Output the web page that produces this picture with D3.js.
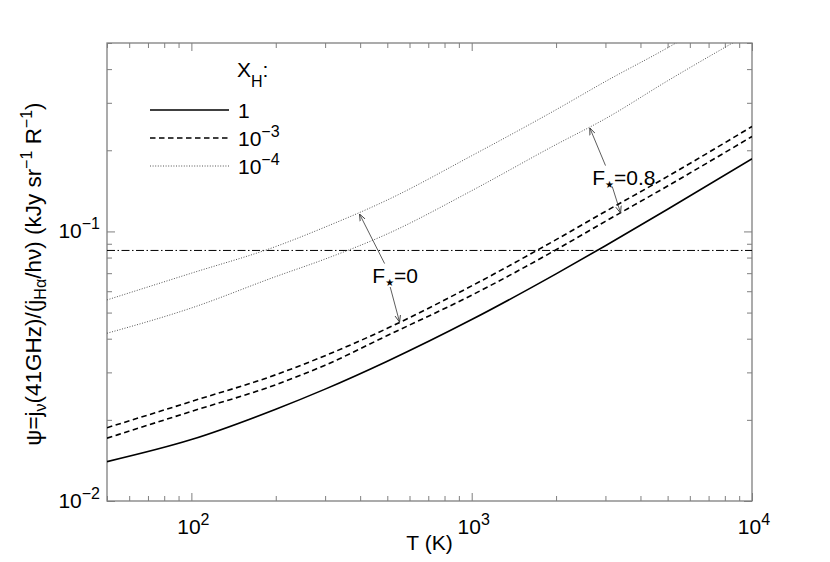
<!DOCTYPE html>
<html>
<head>
<meta charset="utf-8">
<script src="https://cdn.jsdelivr.net/npm/d3@7"></script>
<style>
  body { margin: 0; background: #fff; }
  text { font-family: "Liberation Sans", Arial, Helvetica, sans-serif; fill: #000; }
</style>
</head>
<body>
<div id="main"></div>
<script>
// temperatures (K) and psi values
var temps = [50, 100, 200, 300, 500, 1000, 2000, 3000, 5000, 10000];
var psiXH1 = [0.0140, 0.0169, 0.0219, 0.0260, 0.0330, 0.0471, 0.0696, 0.0885, 0.1208, 0.186];
var psiXH3F0 = [0.0187, 0.0234, 0.0294, 0.0346, 0.0437, 0.0628, 0.0932, 0.1186, 0.160, 0.245];
var psiXH3F08 = [0.0171, 0.0215, 0.0270, 0.0319, 0.0411, 0.0580, 0.0855, 0.109, 0.1474, 0.225];
var psiXH4F0 = [0.0557, 0.070, 0.0879, 0.1038, 0.1308, 0.1909, 0.2828, 0.36, 0.480, 0.74];
var psiXH4F08 = [0.0419, 0.052, 0.068, 0.079, 0.0979, 0.1416, 0.21, 0.262, 0.362, 0.55];
var psiLimit = 0.085;

var legendBase = ["1", "10", "10"];
var legendSup = ["", "\u22123", "\u22124"];
var xTickExp = [2, 3, 4];
var yTickExp = [-2, -1];

// annotations: [T, psi] for label position, arrow tails and heads
var annotLabels = ["0", "0.8"];
var annotPos = [[442, 0.0642], [2691, 0.1493]];
var arrowTail = [[[489, 0.0760], [512, 0.0622]], [[3002, 0.1755], [3172, 0.1468]]];
var arrowHead = [[[398, 0.1160], [553, 0.0461]], [[2639, 0.2420], [3398, 0.1170]]];

var margin = { top: 43, right: 78, bottom: 61, left: 107 },
  width = 830, height = 562;

var x = d3.scaleLog().domain([50, 1e4]).range([margin.left, width - margin.right]);
var y = d3.scaleLog().domain([0.01, 0.5]).range([height - margin.bottom, margin.top]);

var svg = d3.select("#main").append("svg")
  .attr("width", width)
  .attr("height", height);

svg.append("rect").attr("width", width).attr("height", height).attr("fill", "#fff");

var defs = svg.append("defs");
defs.append("clipPath").attr("id", "plotclip")
  .append("rect")
  .attr("x", margin.left).attr("y", margin.top)
  .attr("width", width - margin.left - margin.right)
  .attr("height", height - margin.top - margin.bottom);

defs.append("marker")
  .attr("id", "head")
  .attr("viewBox", "0 0 10 10")
  .attr("refX", 10).attr("refY", 5)
  .attr("markerWidth", 7).attr("markerHeight", 7)
  .attr("markerUnits", "userSpaceOnUse")
  .attr("orient", "auto")
  .append("path")
  .attr("d", "M0,1 L10,5 L0,9")
  .attr("fill", "none")
  .attr("stroke", "#333")
  .attr("stroke-width", 1.2);

function isDecade(v) { var l = Math.log10(v); return Math.abs(l - Math.round(l)) < 1e-9; }
var xMajor = x.ticks().filter(isDecade), xMinor = x.ticks().filter(function (d) { return !isDecade(d); });
var yMajor = y.ticks().filter(isDecade), yMinor = y.ticks().filter(function (d) { return !isDecade(d); });

var axisColor = "#7f7f7f";
function styleAxis(g) {
  g.select(".domain").remove();
  g.selectAll(".tick line").attr("stroke", axisColor).attr("stroke-width", 1);
  g.selectAll(".tick text").remove();
}
var bottomY = height - margin.bottom, rightX = width - margin.right;
[[xMajor, 8], [xMinor, 5]].forEach(function (t) {
  svg.append("g").attr("transform", "translate(0," + bottomY + ")")
    .call(d3.axisBottom(x).tickValues(t[0]).tickSize(-t[1]).tickSizeOuter(0)).call(styleAxis);
  svg.append("g").attr("transform", "translate(0," + margin.top + ")")
    .call(d3.axisTop(x).tickValues(t[0]).tickSize(-t[1]).tickSizeOuter(0)).call(styleAxis);
});
[[yMajor, 8], [yMinor, 5]].forEach(function (t) {
  svg.append("g").attr("transform", "translate(" + margin.left + ",0)")
    .call(d3.axisLeft(y).tickValues(t[0]).tickSize(-t[1]).tickSizeOuter(0)).call(styleAxis);
  svg.append("g").attr("transform", "translate(" + rightX + ",0)")
    .call(d3.axisRight(y).tickValues(t[0]).tickSize(-t[1]).tickSizeOuter(0)).call(styleAxis);
});

svg.append("rect")
  .attr("x", margin.left).attr("y", margin.top)
  .attr("width", rightX - margin.left).attr("height", bottomY - margin.top)
  .attr("fill", "none").attr("stroke", axisColor).attr("stroke-width", 1.3);

// tick labels
xTickExp.forEach(function (e) {
  var t = svg.append("text")
    .attr("x", x(Math.pow(10, e)) + 2).attr("y", bottomY + 33)
    .attr("text-anchor", "middle").style("font-size", "21px");
  t.append("tspan").text("10");
  t.append("tspan").attr("dy", -9).style("font-size", "16px").text(e);
});
yTickExp.forEach(function (e) {
  var t = svg.append("text")
    .attr("x", margin.left - 7).attr("y", y(Math.pow(10, e)) + 7)
    .attr("text-anchor", "end").style("font-size", "21px");
  t.append("tspan").text("10");
  t.append("tspan").attr("dy", -9).style("font-size", "16px").text("\u2212" + Math.abs(e));
});

// axis titles
svg.append("text")
  .attr("x", (margin.left + rightX) / 2).attr("y", 550)
  .attr("text-anchor", "middle").style("font-size", "21px")
  .text("T (K)");

var yl = svg.append("text")
  .attr("transform", "translate(41,274) rotate(-90)")
  .attr("text-anchor", "middle").style("font-size", "22.5px");
yl.append("tspan").text("\u03c8=j");
yl.append("tspan").attr("dy", 5).style("font-size", "16px").text("\u03bd");
yl.append("tspan").attr("dy", -5).text("(41GHz)/(j");
yl.append("tspan").attr("dy", 5).style("font-size", "16px").text("H\u03b1");
yl.append("tspan").attr("dy", -5).text("/h\u03bd) (kJy sr");
yl.append("tspan").attr("dy", -9).style("font-size", "16px").text("\u22121");
yl.append("tspan").attr("dy", 9).text(" R");
yl.append("tspan").attr("dy", -9).style("font-size", "16px").text("\u22121");
yl.append("tspan").attr("dy", 9).text(")");

// curves
var series = [
  { values: psiXH1, stroke: "#000", width: 1.6, dash: null },
  { values: psiXH3F0, stroke: "#000", width: 1.6, dash: "5.5,3.5" },
  { values: psiXH3F08, stroke: "#000", width: 1.6, dash: "5.5,3.5" },
  { values: psiXH4F0, stroke: "#555", width: 1, dash: "1,1.6" },
  { values: psiXH4F08, stroke: "#555", width: 1, dash: "1,1.6" }
];

var line = d3.line()
  .x(function (d) { return x(d[0]); })
  .y(function (d) { return y(d[1]); })
  .curve(d3.curveMonotoneX);

var plot = svg.append("g").attr("clip-path", "url(#plotclip)");

plot.append("line")
  .attr("x1", x(50)).attr("x2", x(1e4))
  .attr("y1", y(psiLimit)).attr("y2", y(psiLimit))
  .attr("stroke", "#000").attr("stroke-width", 1)
  .attr("stroke-dasharray", "8,2.5,1.5,2.5");

plot.selectAll(".curve")
  .data(series)
  .enter().append("path")
  .attr("class", "curve")
  .attr("d", function (s) { return line(temps.map(function (t, i) { return [t, s.values[i]]; })); })
  .attr("fill", "none")
  .attr("stroke", function (s) { return s.stroke; })
  .attr("stroke-width", function (s) { return s.width; })
  .attr("stroke-dasharray", function (s) { return s.dash; });

// annotations
annotLabels.forEach(function (lab, k) {
  var t = svg.append("text")
    .attr("x", x(annotPos[k][0])).attr("y", y(annotPos[k][1]))
    .style("font-size", "21px");
  t.append("tspan").text("F");
  t.append("tspan").attr("dy", 3).style("font-size", "10px")
    .style("font-family", "DejaVu Sans").text("\u2605");
  t.append("tspan").attr("dy", -3).text("=" + lab);
  arrowTail[k].forEach(function (tail, j) {
    var head = arrowHead[k][j];
    svg.append("line")
      .attr("x1", x(tail[0])).attr("y1", y(tail[1]))
      .attr("x2", x(head[0])).attr("y2", y(head[1]))
      .attr("stroke", "#333").attr("stroke-width", 0.8)
      .attr("marker-end", "url(#head)");
  });
});

// legend
var lg = svg.append("g");
var xh = lg.append("text").attr("x", 237).attr("y", 77).style("font-size", "21px");
xh.append("tspan").text("X");
xh.append("tspan").attr("dy", 10).style("font-size", "16px").text("H");
xh.append("tspan").attr("dy", -10).text(":");

series.filter(function (s, i) { return i != 2 && i != 4; }).forEach(function (s, i) {
  var ly = 110 + i * 28;
  lg.append("line")
    .attr("x1", 150).attr("x2", 229).attr("y1", ly).attr("y2", ly)
    .attr("stroke", s.stroke).attr("stroke-width", s.width)
    .attr("stroke-dasharray", s.dash);
  var t = lg.append("text").attr("x", 238).attr("y", ly + 7.5).style("font-size", "21px");
  t.append("tspan").text(legendBase[i]);
  if (legendSup[i]) t.append("tspan").attr("dy", -9).style("font-size", "16px").text(legendSup[i]);
});
</script>
</body>
</html>
